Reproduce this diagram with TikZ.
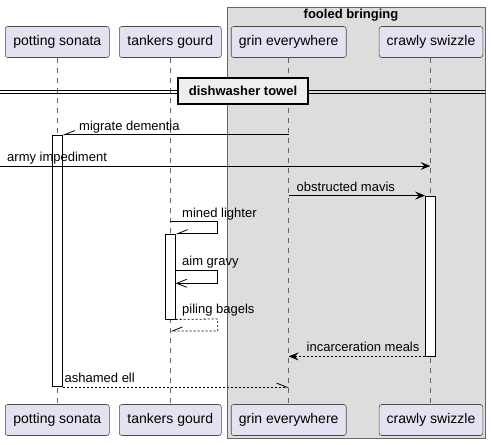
\documentclass[tikz,border=0pt]{standalone}
\usepackage{fontspec}
\setmainfont{Liberation Sans}
\usetikzlibrary{arrows.meta,positioning}

\definecolor{partfill}{HTML}{E2E2F0}
\definecolor{groupfill}{HTML}{DDDDDD}
\definecolor{divfill}{HTML}{EEEEEE}

\tikzset{
  participant/.style={draw=black!70, line width=0.6pt, fill=partfill, rounded corners=2.5pt,
    minimum height=31pt, inner xsep=7.5pt, font=\fontsize{14}{16}\selectfont},
  lifeline/.style={draw=black!60, line width=0.6pt, dash pattern=on 5pt off 5pt},
  actbar/.style={draw=black, line width=0.8pt, fill=white, minimum width=9.6pt, inner sep=0pt},
  msg/.style={draw=black, line width=0.8pt},
  reply/.style={msg, dash pattern=on 2pt off 2pt},
  msglabel/.style={anchor=base west, inner sep=0pt, font=\fontsize{13}{15}\selectfont},
  fullhead/.style={-{Stealth[length=10pt, width=8pt, inset=4pt]}},
  openhead/.style={-{Straight Barb[length=10pt, width=8pt, line width=0.8pt]}},
  halfhead/.style={-{Straight Barb[harpoon, length=10pt, width=8pt, line width=0.8pt]}},
  halfswap/.style={-{Straight Barb[harpoon, swap, length=10pt, width=8pt, line width=0.8pt]}},
}

\begin{document}
\begin{tikzpicture}[x=1pt, y=-1pt]
        \useasboundingbox (0,0) rectangle (491,445);

        % Group box fooled bringing
        \node[draw=black!60, line width=0.8pt, fill=groupfill, minimum width=258pt, minimum height=431pt,
          inner sep=0pt] (grp) at (356,222.5) {};
        \node[font=\bfseries\fontsize{13}{15}\selectfont, inner sep=0pt, anchor=north] (grptitle) at (351,8.5) {fooled bringing};

        % Participants on top
        \node[participant, minimum width=104pt] (psT) at (57.3,42) {potting sonata};
        \node[participant, minimum width=102pt] (tgT) at (170.3,42) {tankers gourd};
        \node[participant, minimum width=115pt] (geT) at (288.7,42) {grin everywhere};
        \node[participant, minimum width=98pt] (csT) at (431,42) {crawly swizzle};

        % Participants at the bottom
        \node[participant, minimum width=104pt] (psB) at (57.3,420) {potting sonata};
        \node[participant, minimum width=102pt] (tgB) at (170.3,420) {tankers gourd};
        \node[participant, minimum width=115pt] (geB) at (288.7,420) {grin everywhere};
        \node[participant, minimum width=98pt] (csB) at (431,420) {crawly swizzle};

        % Lifelines
        \draw[lifeline] (psT) -- (psB);
        \draw[lifeline] (tgT) -- (tgB);
        \draw[lifeline] (geT) -- (geB);
        \draw[lifeline] (csT.south -| 430.3,0) -- (csB.north -| 430.3,0);

        % Divider dishwasher towel
        \coordinate (divL) at (0,91.5);
        \coordinate (divR) at (485,91.5);
        \draw[line width=0.8pt] ([yshift=-1.6pt]divL) -- ([yshift=-1.6pt]divR);
        \draw[line width=0.8pt] ([yshift=1.6pt]divL) -- ([yshift=1.6pt]divR);
        \node[draw=black, line width=1.6pt, fill=divfill, minimum width=130pt, minimum height=26pt,
          font=\bfseries\fontsize{13}{15}\selectfont] (divider) at (243,91) {dishwasher towel};

        % Activation bars
        \node[actbar, minimum height=251.7pt] (psAct) at (57.5,260.85) {};
        \node[actbar, minimum height=160pt] (csAct) at (430.3,276) {};
        \node[actbar, minimum height=85pt] (tgAct) at (170.5,276.5) {};

        % migrate dementia
        \draw[msg, halfswap] (psAct.north east -| geT) -- (psAct.north east);
        \node[msglabel] (m1) at (79,130.5) {migrate dementia};

        % army impediment
        \coordinate (armyIn) at (0,166);
        \draw[msg, fullhead] (armyIn) -- (armyIn -| 430.3,0);
        \node[msglabel] (m2) at (7,161.5) {army impediment};

        % obstructed mavis
        \draw[msg, fullhead] (csAct.north west -| geT) -- (csAct.north west);
        \node[msglabel] (m3) at (296.5,191.5) {obstructed mavis};

        % mined lighter
        \draw[msg, halfswap] (tgT |- 0,221.7) -- (217.7,221.7) |- (tgAct.north east);
        \node[msglabel] (m4) at (182,217) {mined lighter};

        % aim gravy
        \draw[msg, openhead] (tgAct.east |- 0,270.3) -- (217.7,270.3) |- (tgAct.east |- 0,283.3);
        \node[msglabel] (m5) at (182,265.5) {aim gravy};

        % piling bagels
        \draw[reply, halfswap] (tgAct.south east) -- (217.7,319) |- (tgT |- 0,331);
        \node[msglabel] (m6) at (182,313.5) {piling bagels};

        % incarceration meals
        \draw[reply, fullhead] (csAct.south west) -- (csAct.south west -| geT);
        \node[msglabel] (m7) at (306.5,351.5) {incarceration meals};

        % ashamed ell
        \draw[reply, halfhead] (psAct.south east) -- (psAct.south east -| geT);
        \node[msglabel] (m8) at (64.5,382) {ashamed ell};

        \end{tikzpicture}
\end{document}
